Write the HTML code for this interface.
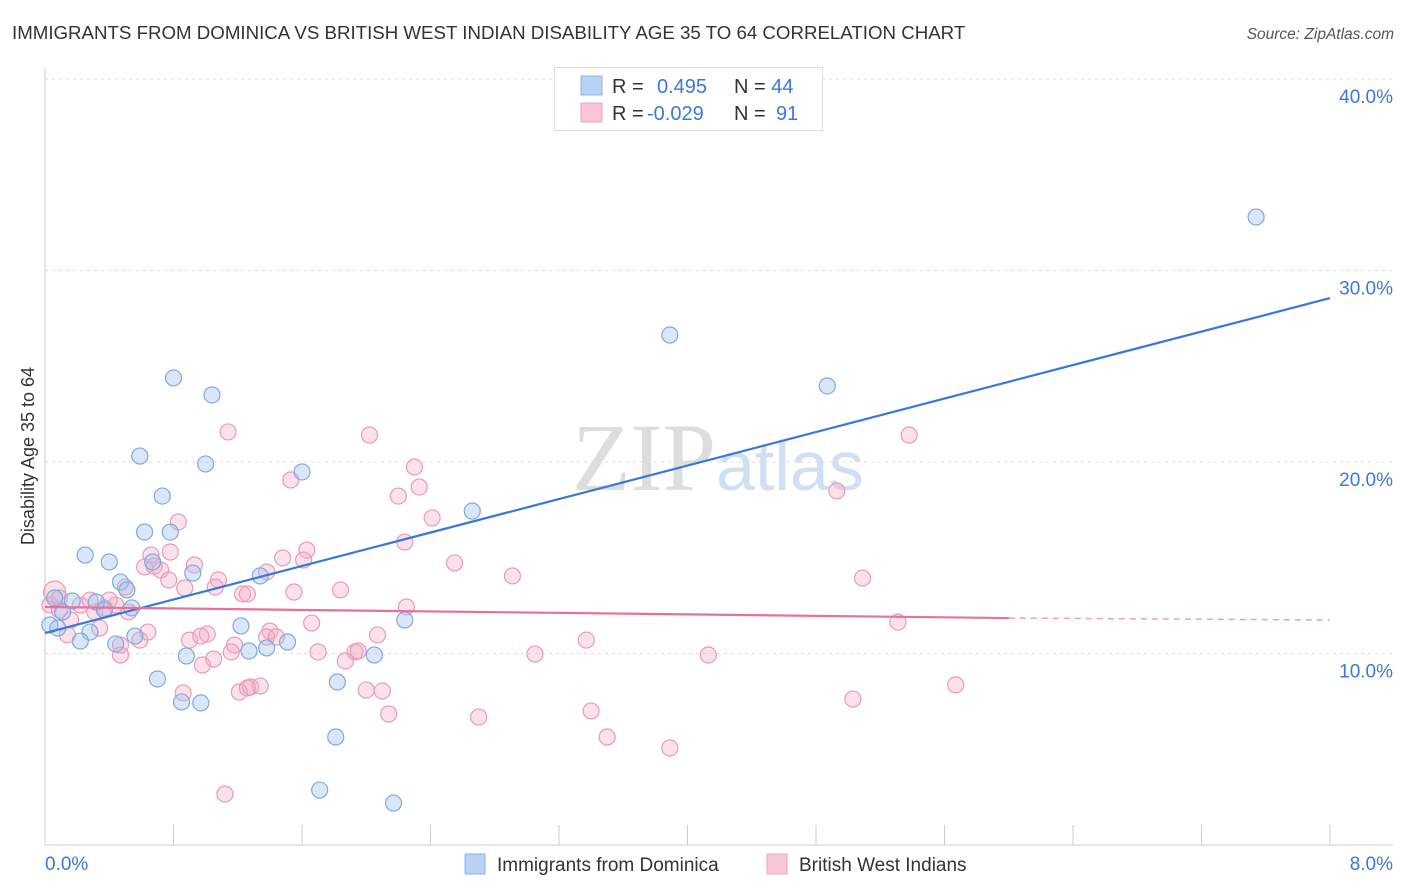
<!DOCTYPE html>
<html><head><meta charset="utf-8"><style>
body{margin:0;background:#fff;font-family:"Liberation Sans",sans-serif}
svg{display:block}
</style></head><body>
<svg id="c" width="1406" height="892">
<text x="12" y="39" font-size="18.7" fill="#333">IMMIGRANTS FROM DOMINICA VS BRITISH WEST INDIAN DISABILITY AGE 35 TO 64 CORRELATION CHART</text>
<text x="1394" y="39" font-size="15.5" fill="#555" font-style="italic" text-anchor="end">Source: ZipAtlas.com</text>
<g id="grid"></g>
<text x="716" y="490" font-size="96" fill="#ddd" text-anchor="end" font-family="Liberation Serif">ZIP</text>
<text x="716" y="490" font-size="70" fill="#cfe0f4">atlas</text>
<text transform="translate(34,456) rotate(-90)" font-size="18" fill="#333" text-anchor="middle">Disability Age 35 to 64</text>
<g id="pts"></g>
<g id="lines"></g>
<g>
<rect x="554.5" y="67.5" width="268" height="63" fill="#fff" stroke="#ddd"/>
<rect x="581" y="76" width="21" height="19" fill="#b8d3f5" stroke="#8ab4e8"/>
<rect x="581" y="103" width="21" height="19" fill="#f9c6d5" stroke="#eea4bc"/>
<text x="612" y="93" font-size="20" fill="#333">R = <tspan fill="#3a78d8" x="657">0.495</tspan><tspan x="734" fill="#333">N = </tspan><tspan fill="#3a78d8">44</tspan></text>
<text x="612" y="120" font-size="20" fill="#333">R = <tspan fill="#3a78d8" x="647">-0.029</tspan><tspan x="734" fill="#333">N = </tspan><tspan fill="#3a78d8" x="776">91</tspan></text>
</g>
<g>
<rect x="465" y="854" width="20" height="20" fill="#b8d3f5" stroke="#8ab4e8"/>
<text x="497" y="871" font-size="19" fill="#333">Immigrants from Dominica</text>
<rect x="767" y="854" width="20" height="20" fill="#f9c6d5" stroke="#eea4bc"/>
<text x="799" y="871" font-size="19" fill="#333">British West Indians</text>
</g>
</svg>
<script>
const xTicks=[0,0.8,1.6,2.4,3.2,4.0,4.8,5.6,6.4,7.2,8.0];
const yTicks=[10,20,30,40];
const yTickLabels=["10.0%","20.0%","30.0%","40.0%"];
const blueX=[7.54,3.89,4.87,0.80,1.04,0.59,1.00,1.60,0.73,2.66,0.62,0.78,0.25,0.40,0.67,0.92,0.47,0.51,1.34,0.32,0.17,0.06,0.11,0.37,0.54,0.03,0.08,0.28,0.22,0.44,0.56,1.22,2.24,1.27,1.38,1.51,0.88,2.05,0.70,1.82,0.85,0.97,1.81,1.71,2.17];
const blueY=[32.79,26.63,23.97,24.39,23.50,20.31,19.90,19.48,18.22,17.44,16.34,16.34,15.14,14.78,14.78,14.20,13.73,13.32,14.05,12.69,12.74,12.90,12.17,12.27,12.38,11.49,11.33,11.12,10.65,10.50,10.91,11.44,11.75,10.13,10.29,10.60,9.87,9.92,8.67,8.51,7.47,7.42,5.64,2.87,2.19];
const pinkX=[0.06,0.03,0.09,0.16,0.22,0.31,0.37,0.44,0.52,0.14,0.34,0.47,0.59,0.64,0.50,0.62,0.68,0.72,0.66,0.78,0.83,0.77,0.87,0.93,1.08,1.06,1.23,1.26,1.14,1.53,1.63,1.61,1.48,1.38,1.55,1.84,1.66,1.40,1.38,1.44,0.90,1.01,0.97,1.18,1.05,0.98,0.86,1.21,1.28,1.34,1.12,0.47,2.02,2.30,2.33,2.20,2.41,2.24,2.55,2.91,2.25,2.07,1.93,1.95,1.87,2.00,2.10,2.14,2.70,3.05,3.37,3.40,3.50,3.89,4.13,4.93,5.38,5.09,5.31,5.67,5.03,1.70,1.16,1.26,0.40,0.28,0.09];
const pinkY=[13.21,12.53,12.27,11.75,12.53,12.17,12.38,12.53,12.17,10.97,11.33,10.44,10.70,11.12,13.47,14.52,14.57,14.36,15.14,15.30,16.87,13.84,13.42,14.62,13.84,13.47,13.11,13.11,21.57,19.06,15.40,14.88,14.99,14.26,13.21,13.32,11.59,11.17,10.86,10.86,10.70,11.02,10.91,10.44,9.71,9.40,7.94,7.99,8.25,8.30,2.66,9.92,21.41,19.74,18.69,18.22,17.08,15.82,14.73,14.05,12.43,10.97,10.08,10.13,9.61,8.09,8.04,6.84,6.68,9.97,10.70,7.00,5.64,5.07,9.92,18.49,21.41,13.94,11.64,8.36,7.62,10.08,10.08,8.20,12.79,12.79,12.90];
const blueTrendX=[0,8];
const blueTrendY=[11.07,28.56];
const pinkTrendX=[0,6.0,8];
const pinkTrendY=[12.43,11.85,11.75];

const X=v=>45+v*(1285/8);
const Y=v=>845-v*19.15;
const NS='http://www.w3.org/2000/svg';
function mk(t,a,p){const e=document.createElementNS(NS,t);for(const k in a)e.setAttribute(k,a[k]);p.appendChild(e);return e;}
const grid=document.getElementById('grid');
yTicks.forEach((t,i)=>{
  const l=mk('line',{x1:45,x2:1393,y1:Y(t),y2:Y(t),stroke:'#ddd','stroke-dasharray':'3,4'},grid);
  
  
  const tx=mk('text',{x:1393,y:Y(t)+24,'font-size':19,fill:'#3a78d8','text-anchor':'end'},grid);
  tx.textContent=yTickLabels[i];
  
  
});
const ax=mk('line',{x1:45,x2:1393,y1:845,y2:845,stroke:'#ccc'},grid);


const ay=mk('line',{x1:45,x2:45,y1:68,y2:845,stroke:'#ccc'},grid);


xTicks.forEach(t=>{
  const l=mk('line',{x1:X(t),x2:X(t),y1:825,y2:845,stroke:'#ccc'},grid);
  
  
});
const xl0=mk('text',{x:45,y:870,'font-size':19,fill:'#3a78d8'},grid);xl0.textContent='0.0%';


const xl1=mk('text',{x:1393,y:870,'font-size':19,fill:'#3a78d8','text-anchor':'end'},grid);xl1.textContent='8.0%';


const pts=document.getElementById('pts');
pinkX.forEach((v,i)=>{
  const c=mk('circle',{cx:X(v),cy:Y(pinkY[i]),r:i==0?11:8,fill:'rgba(244,170,195,0.35)',stroke:'#eb9ab6','stroke-width':1.2},pts);
  
  
});
blueX.forEach((v,i)=>{
  const c=mk('circle',{cx:X(v),cy:Y(blueY[i]),r:8,fill:'rgba(160,196,240,0.4)',stroke:'#7eaae2','stroke-width':1.2},pts);
  
  
});
const lines=document.getElementById('lines');
const bl=mk('line',{x1:X(blueTrendX[0]),y1:Y(blueTrendY[0]),x2:X(blueTrendX[1]),y2:Y(blueTrendY[1]),stroke:'#3a78d8','stroke-width':2.2},lines);


const pl=mk('line',{x1:X(pinkTrendX[0]),y1:Y(pinkTrendY[0]),x2:X(pinkTrendX[1]),y2:Y(pinkTrendY[1]),stroke:'#e8709a','stroke-width':2.2},lines);


const pd=mk('line',{x1:X(pinkTrendX[1]),y1:Y(pinkTrendY[1]),x2:X(pinkTrendX[2]),y2:Y(pinkTrendY[2]),stroke:'#e8a0b8','stroke-width':1.5,'stroke-dasharray':'6,5'},lines);


</script>
</body></html>
